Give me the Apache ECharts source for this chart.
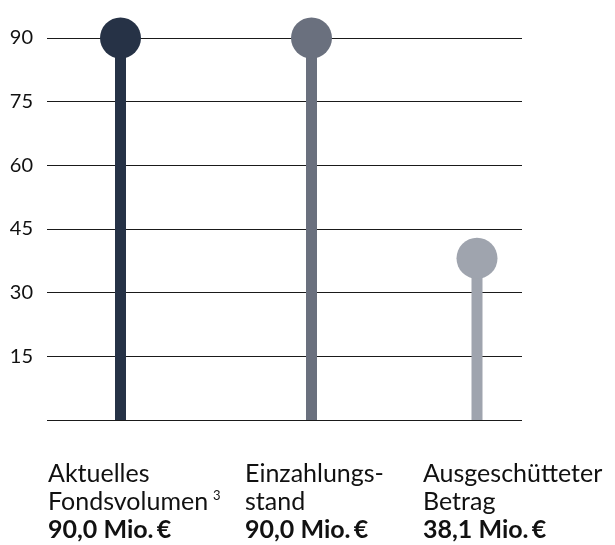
<!DOCTYPE html>
<html>
<head>
<meta charset="utf-8">
<script src="https://cdn.jsdelivr.net/npm/echarts@6/dist/echarts.min.js"></script>
<style>
html,body{margin:0;padding:0;background:#fff;}
#chart{width:615px;height:545px;}
</style>
</head>
<body>
<div id="chart"></div>
<script>
// ---- data ----
var categories = ['Aktuelles\nFondsvolumen', 'Einzahlungs-\nstand', 'Ausgeschütteter\nBetrag'];
var footnotes = ['3', '', ''];
var values = [90.0, 90.0, 38.1];
var valueLabels = ['90,0 Mio.\u2009€', '90,0 Mio.\u2009€', '38,1 Mio.\u2009€'];
var yTicks = [0, 15, 30, 45, 60, 75, 90];

// ---- layout / style ----
var colors = ['#263246', '#6a707e', '#9fa4ae'];
var columns = [ // label left edge and column width (bar centred)
  {left: 48, width: 145},
  {left: 245, width: 133},
  {left: 423, width: 108}
];
var TOP = 38, BOTTOM = 125, FONT = 'Lato, "Noto Sans", sans-serif';

var grids = [{left: 47, right: 93, top: TOP, bottom: BOTTOM}];
var xAxes = [{gridIndex: 0, type: 'category', data: ['a'], show: false}];
var yAxes = [{
  gridIndex: 0, type: 'value', min: yTicks[0], max: yTicks[yTicks.length - 1], interval: 15,
  axisLine: {show: false}, axisTick: {show: false},
  splitLine: {show: true, lineStyle: {color: '#1a1a1a', width: 1}},
  axisLabel: {
    margin: 14, color: '#111', fontSize: 20, fontFamily: FONT, padding: [0, 0, 7, 0],
    formatter: function (v) { return v === 0 ? '' : String(v); }
  }
}];
var series = [];

categories.forEach(function (cat, i) {
  var gi = i + 1;
  grids.push({left: columns[i].left, width: columns[i].width, top: TOP, bottom: BOTTOM});
  var lines = cat.split('\n');
  var nameText = lines.map(function (l, k) {
    return (k === lines.length - 1 && footnotes[i]) ? '{t|' + l + '}{sup|' + footnotes[i] + '}' : '{t|' + l + '}';
  }).join('\n') + '\n{b|' + valueLabels[i] + '}';
  xAxes.push({
    gridIndex: gi, type: 'category', data: [cat],
    axisLine: {show: false}, axisTick: {show: false}, axisLabel: {show: false},
    name: nameText, nameLocation: 'start', nameGap: 0,
    nameTextStyle: {
      align: 'left', verticalAlign: 'top', padding: [40, 0, 0, 0],
      rich: {
        t: {fontSize: 25, lineHeight: 28, color: '#111', fontFamily: FONT},
        sup: {fontSize: 13, lineHeight: 14, color: '#111', fontFamily: FONT, padding: [0, 0, 12, 5]},
        b: {fontSize: 25, lineHeight: 28, color: '#111', fontWeight: 'bold', fontFamily: FONT}
      }
    }
  });
  yAxes.push({gridIndex: gi, type: 'value', min: 0, max: 90, show: false, splitLine: {show: false}});
  series.push({
    type: 'bar', xAxisIndex: gi, yAxisIndex: gi, barWidth: 11, z: 2,
    itemStyle: {color: colors[i]},
    data: [values[i]], silent: true, animation: false
  });
  series.push({
    type: 'scatter', xAxisIndex: gi, yAxisIndex: gi, symbol: 'circle', symbolSize: 41, z: 3,
    itemStyle: {color: colors[i], opacity: 1},
    data: [values[i]], silent: true, animation: false
  });
});

var chart = echarts.init(document.getElementById('chart'), null, {renderer: 'canvas'});
chart.setOption({
  backgroundColor: '#fff',
  animation: false,
  grid: grids, xAxis: xAxes, yAxis: yAxes, series: series
});
</script>
</body>
</html>
